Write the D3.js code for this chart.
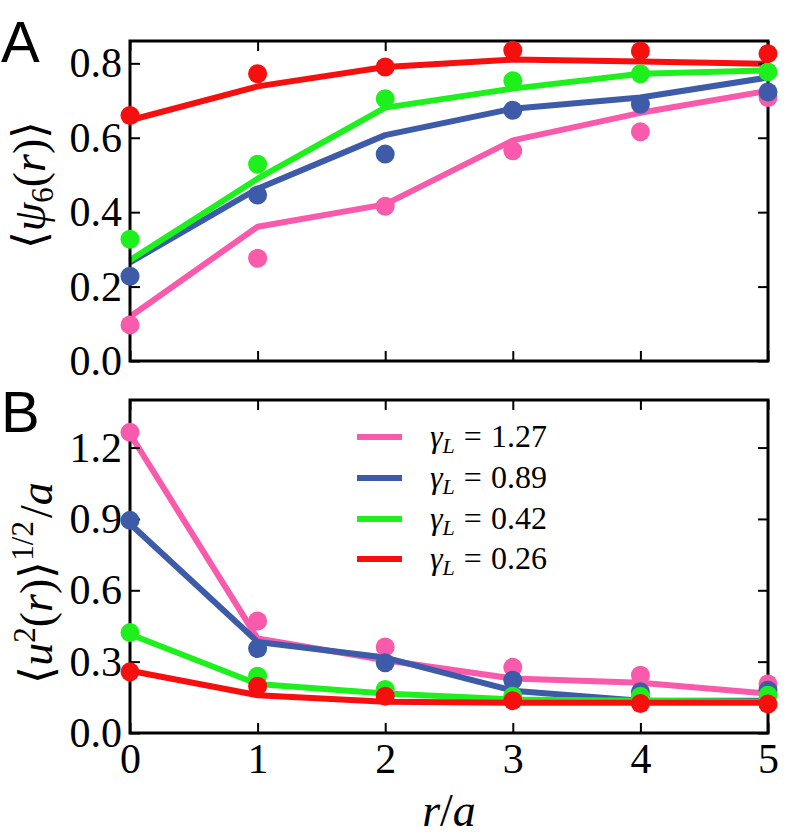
<!DOCTYPE html>
<html>
<head>
<meta charset="utf-8">
<script src="https://cdn.jsdelivr.net/npm/d3@7/dist/d3.min.js"></script>
<style>
  html, body { margin: 0; padding: 0; background: #fff; }
  svg { display: block; }
</style>
</head>
<body>
<svg id="chart" width="786" height="838"></svg>
<script>
// ---------------- data ----------------
const rValues = [0, 1, 2, 3, 4, 5];
const gammaLabels = ["1.27", "0.89", "0.42", "0.26"];
const seriesColors = ["#f95aab", "#3d5ba8", "#1ef01e", "#f50f0f"];

// Panel A: <psi6(r)>  (line = model, dots = measured)
const psiLinePink  = [0.119, 0.361, 0.421, 0.593, 0.667, 0.726];
const psiDotPink   = [0.097, 0.276, 0.416, 0.565, 0.616, 0.708];
const psiLineBlue  = [0.265, 0.463, 0.607, 0.678, 0.708, 0.762];
const psiDotBlue   = [0.228, 0.446, 0.556, 0.674, 0.690, 0.723];
const psiLineGreen = [0.271, 0.490, 0.681, 0.732, 0.772, 0.781];
const psiDotGreen  = [0.327, 0.529, 0.705, 0.753, 0.772, 0.777];
const psiLineRed   = [0.647, 0.738, 0.790, 0.810, 0.805, 0.799];
const psiDotRed    = [0.660, 0.772, 0.790, 0.835, 0.833, 0.826];

// Panel B: <u^2(r)>^{1/2}/a
const uLinePink  = [1.257, 0.397, 0.306, 0.229, 0.211, 0.166];
const uDotPink   = [1.264, 0.471, 0.362, 0.276, 0.243, 0.206];
const uLineBlue  = [0.880, 0.383, 0.317, 0.178, 0.136, 0.136];
const uDotBlue   = [0.894, 0.355, 0.295, 0.222, 0.173, 0.180];
const uLineGreen = [0.415, 0.206, 0.166, 0.141, 0.136, 0.131];
const uDotGreen  = [0.422, 0.239, 0.183, 0.155, 0.155, 0.159];
const uLineRed   = [0.262, 0.159, 0.131, 0.127, 0.127, 0.127];
const uDotRed    = [0.257, 0.197, 0.155, 0.136, 0.124, 0.122];

const xTicks  = [0, 1, 2, 3, 4, 5];
const yTicksA = [0.0, 0.2, 0.4, 0.6, 0.8];
const yTicksB = [0.0, 0.3, 0.6, 0.9, 1.2];

const psiLines = [psiLinePink, psiLineBlue, psiLineGreen, psiLineRed];
const psiDots  = [psiDotPink, psiDotBlue, psiDotGreen, psiDotRed];
const uLines   = [uLinePink, uLineBlue, uLineGreen, uLineRed];
const uDots    = [uDotPink, uDotBlue, uDotGreen, uDotRed];

// ---------------- layout ----------------
const SERIF = '"Liberation Serif"';
const SANS = '"Liberation Sans"';
const svg = d3.select("#chart");
const L = 130, R = 768;
const panels = [
  { top: 41, bottom: 361, domain: [0, 0.86], ticks: yTicksA, lines: psiLines, dots: psiDots, xLabels: false },
  { top: 400, bottom: 733, domain: [0, 1.4], ticks: yTicksB, lines: uLines, dots: uDots, xLabels: true }
];
const x = d3.scaleLinear().domain([0, 5]).range([L, R]);

panels.forEach((p, pi) => {
  const y = d3.scaleLinear().domain(p.domain).range([p.bottom, p.top]);
  const g = svg.append("g");

  p.lines.forEach((vals, si) => {
    const line = d3.line().x((d, i) => x(rValues[i])).y(d => y(d));
    g.append("path").datum(vals)
      .attr("d", line)
      .attr("fill", "none")
      .attr("stroke", seriesColors[si])
      .attr("stroke-width", 6)
      .attr("stroke-linejoin", "round");
  });

  const fmt = d3.format(".1f");
  const left = g.append("g").attr("transform", `translate(${L},0)`)
    .call(d3.axisLeft(y).tickValues(p.ticks).tickFormat(fmt).tickSizeInner(-10).tickSizeOuter(0).tickPadding(8));
  const right = g.append("g").attr("transform", `translate(${R},0)`)
    .call(d3.axisRight(y).tickValues(p.ticks).tickFormat("").tickSizeInner(-10).tickSizeOuter(0));
  const top = g.append("g").attr("transform", `translate(0,${p.top})`)
    .call(d3.axisTop(x).tickValues(xTicks).tickFormat("").tickSizeInner(-10).tickSizeOuter(0));
  const bottom = g.append("g").attr("transform", `translate(0,${p.bottom})`)
    .call(d3.axisBottom(x).tickValues(xTicks).tickFormat(p.xLabels ? d3.format("d") : "").tickSizeInner(-10).tickSizeOuter(0).tickPadding(10));
  [left, right, top, bottom].forEach(a => {
    a.attr("font-family", null).attr("font-size", null);
    a.select(".domain").remove();
    a.selectAll(".tick line").attr("stroke", "#000").attr("stroke-width", 2);
    a.selectAll("text").style("font-family", SERIF).style("font-size", "42px").attr("fill", "#000");
  });
  g.append("rect")
    .attr("x", L).attr("y", p.top)
    .attr("width", R - L).attr("height", p.bottom - p.top)
    .attr("fill", "none").attr("stroke", "#000").attr("stroke-width", 3);

  p.dots.forEach((vals, si) => {
    g.selectAll(null).data(vals).enter().append("circle")
      .attr("cx", (d, i) => x(rValues[i]))
      .attr("cy", d => y(d))
      .attr("r", 9.5)
      .attr("fill", seriesColors[si]);
  });
});

// panel letters
svg.append("text").attr("x", 1).attr("y", 62).text("A")
  .style("font-family", SANS).style("font-size", "58px");
svg.append("text").attr("x", 1).attr("y", 432).text("B")
  .style("font-family", SANS).style("font-size", "58px");

// y label A
const ylA = svg.append("text")
  .attr("transform", "translate(45,185) rotate(-90)")
  .attr("text-anchor", "middle")
  .style("font-family", SERIF).style("font-size", "46px");
ylA.append("tspan").text("⟨");
ylA.append("tspan").style("font-style", "italic").text("ψ");
ylA.append("tspan").style("font-size", "31px").attr("dy", 8).text("6");
ylA.append("tspan").attr("dy", -8).text("(");
ylA.append("tspan").style("font-style", "italic").text("r");
ylA.append("tspan").text(")⟩");

// y label B
const ylB = svg.append("text")
  .attr("transform", "translate(52,583) rotate(-90)")
  .attr("text-anchor", "middle")
  .style("font-family", SERIF).style("font-size", "46px");
ylB.append("tspan").text("⟨");
ylB.append("tspan").style("font-style", "italic").text("u");
ylB.append("tspan").style("font-size", "31px").attr("dy", -17).text("2");
ylB.append("tspan").attr("dy", 17).text("(");
ylB.append("tspan").style("font-style", "italic").text("r");
ylB.append("tspan").text(")⟩");
ylB.append("tspan").style("font-size", "31px").attr("dy", -19).text("1/2");
ylB.append("tspan").attr("dy", 19).attr("dx", 3).text("/");
ylB.append("tspan").style("font-style", "italic").text("a");

// x label
const xl = svg.append("text").attr("x", 449).attr("y", 826)
  .attr("text-anchor", "middle")
  .style("font-family", SERIF).style("font-size", "46px");
xl.append("tspan").style("font-style", "italic").text("r");
xl.append("tspan").text("/");
xl.append("tspan").style("font-style", "italic").text("a");

// legend
const legY = [437, 478, 519, 559];
gammaLabels.forEach((lab, i) => {
  svg.append("line")
    .attr("x1", 357).attr("x2", 402)
    .attr("y1", legY[i]).attr("y2", legY[i])
    .attr("stroke", seriesColors[i]).attr("stroke-width", 6);
  const t = svg.append("text").attr("x", 430).attr("y", legY[i] + 10)
    .style("font-family", SERIF).style("font-size", "32px");
  t.append("tspan").style("font-style", "italic").text("γ");
  t.append("tspan").style("font-style", "italic").style("font-size", "22px").attr("dy", 6).text("L");
  t.append("tspan").attr("dy", -6).attr("dx", 9).text("=");
  t.append("tspan").attr("dx", 9).text(lab);
});
</script>
</body>
</html>
